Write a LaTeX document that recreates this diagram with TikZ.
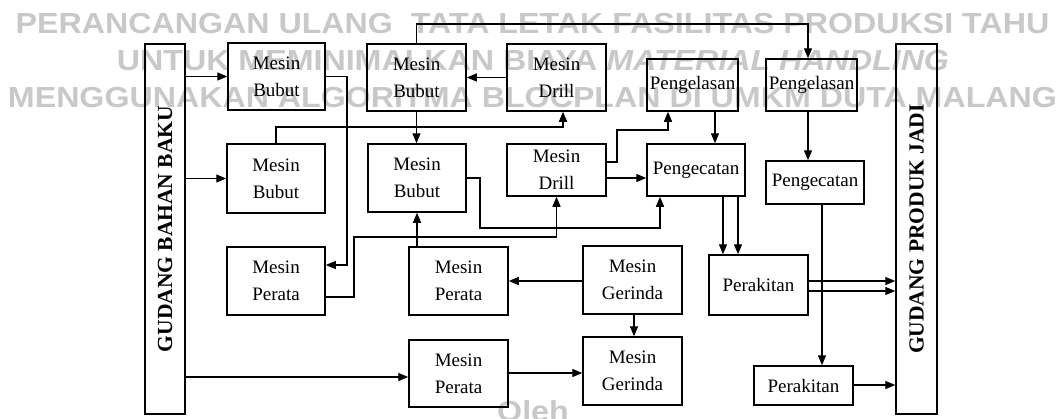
\documentclass[tikz,border=0pt]{standalone}
\usepackage{fontspec}
\setmainfont{Liberation Serif}
\newfontfamily\wmfont{Liberation Sans}
\usetikzlibrary{arrows.meta}

\definecolor{wmgray}{RGB}{200,200,200}

\tikzset{
  box/.style={draw, line width=1.5pt, inner sep=0pt, align=center,
              font=\fontsize{19}{27}\selectfont},
  store/.style={box, font=\bfseries\fontsize{21.5}{21.5}\selectfont},
  link/.style={line width=1.4pt, -{Triangle[length=10pt,width=8pt]}},
  wm/.style={text=wmgray, anchor=base, inner sep=0pt,
             font=\wmfont\bfseries\fontsize{29}{29}\selectfont}
}
\newcommand{\widetitle}[1]{\scalebox{1.11}[1]{#1}}

\begin{document}
\begin{tikzpicture}[x=1pt, y=-1pt]
\fill[white] (0,0) rectangle (1061,418);
\useasboundingbox (0,0) rectangle (1061,418);

% heading lines behind the flow chart
\node[wm] (t1) at (532.5,33) {\widetitle{PERANCANGAN ULANG\ \ TATA LETAK FASILITAS PRODUKSI TAHU}};
\node[wm] (t2) at (533,70) {\widetitle{UNTUK MEMINIMALKAN BIAYA \textit{MATERIAL HANDLING}}};
\node[wm] (t3) at (532.5,107) {\widetitle{MENGGUNAKAN ALGORITMA BLOCPLAN DI UMKM DUTA MALANG}};
\node[wm] (t4) at (533,421) {\widetitle{Oleh}};

% warehouses
\node[store, minimum width=40pt, minimum height=370pt] (gbb) at (165,229)
  {\rotatebox{90}{GUDANG BAHAN BAKU}};
\node[store, minimum width=41pt, minimum height=370pt] (gpj) at (916.5,229)
  {\rotatebox{90}{GUDANG PRODUK JADI}};

% work stations
\node[box, minimum width=97pt, minimum height=67pt] (bub1) at (276.5,76.5) {Mesin\\Bubut};
\node[box, minimum width=99pt, minimum height=67pt] (bub2) at (416.5,77.5) {Mesin\\Bubut};
\node[box, minimum width=99pt, minimum height=67pt] (dri1) at (556.5,77.5) {Mesin\\Drill};
\node[box, minimum width=91pt, minimum height=52pt] (las1) at (692.5,85) {Pengelasan};
\node[box, minimum width=91pt, minimum height=52pt] (las2) at (811.5,85) {Pengelasan};
\node[box, minimum width=98pt, minimum height=69pt] (bub3) at (276,178.5) {Mesin\\Bubut};
\node[box, minimum width=98pt, minimum height=68pt] (bub4) at (417,178) {Mesin\\Bubut};
\node[box, minimum width=99pt, minimum height=52pt] (dri2) at (556.5,170) {Mesin\\Drill};
\node[box, minimum width=98pt, minimum height=52pt] (cat1) at (696,170) {Pengecatan};
\node[box, minimum width=98pt, minimum height=43pt] (cat2) at (815,182.5) {Pengecatan};
\node[box, minimum width=98pt, minimum height=68pt] (per1) at (276,281) {Mesin\\Perata};
\node[box, minimum width=99pt, minimum height=68pt] (per2) at (458.5,281) {Mesin\\Perata};
\node[box, minimum width=99pt, minimum height=68pt] (ger1) at (632.5,280) {Mesin\\Gerinda};
\node[box, minimum width=99pt, minimum height=60pt] (rak1) at (758.5,285) {Perakitan};
\node[box, minimum width=99pt, minimum height=67pt] (per3) at (458.5,373.5) {Mesin\\Perata};
\node[box, minimum width=99pt, minimum height=68pt] (ger2) at (632.5,371) {Mesin\\Gerinda};
\node[box, minimum width=99pt, minimum height=39pt] (rak2) at (803.5,385.5) {Perakitan};

% raw material supply
\draw[link] (gbb.east |- bub1.west) -- (bub1.west);
\draw[link] (gbb.east |- bub3.west) -- (bub3.west);
\draw[link] (gbb.east |- 0,377) -- (per3.west |- 0,377);

% routes between machines
\draw[link] (bub1.east) -| (347,265) -- (per1.east |- 0,265);
\draw[link] (per1.east |- 0,297) -| (354,237) -| (dri2.south);
\draw[link] (per2.north -| bub4.south) -- (bub4.south);
\draw[link] (bub3.north) |- (563,127) -- (dri1.south -| 563,0);
\draw[link] (bub2.south) -- (bub2.south |- bub4.north);
\draw[link] (dri1.west) -- (bub2.east);
\draw[link] (bub2.north) |- (808,24) -- (las2.north -| 808,0);
\draw[link] (dri2.east |- 0,162) -| (617,130) -| (las1.south -| 668,0);
\draw[link] (dri2.east |- 0,178) -- (cat1.west |- 0,178);
\draw[link] (bub4.east) -| (480,228) -| (cat1.south -| 660,0);
\draw[link] (las1.south -| 715,0) -- (cat1.north -| 715,0);
\draw[link] (las2.south -| 808,0) -- (cat2.north -| 808,0);
\draw[link] (cat1.south -| 723,0) -- (rak1.north -| 723,0);
\draw[link] (cat1.south -| 738,0) -- (rak1.north -| 738,0);
\draw[link] (cat2.south -| 822,0) -- (rak2.north -| 822,0);
\draw[link] (ger1.west |- 0,281) -- (per2.east |- 0,281);
\draw[link] (ger1.south -| 634,0) -- (ger2.north -| 634,0);
\draw[link] (per3.east |- 0,373) -- (ger2.west |- 0,373);

% finished goods
\draw[link] (rak1.east |- 0,281) -- (gpj.west |- 0,281);
\draw[link] (rak1.east |- 0,291) -- (gpj.west |- 0,291);
\draw[link] (rak2.east |- 0,385) -- (gpj.west |- 0,385);
\end{tikzpicture}
\end{document}
